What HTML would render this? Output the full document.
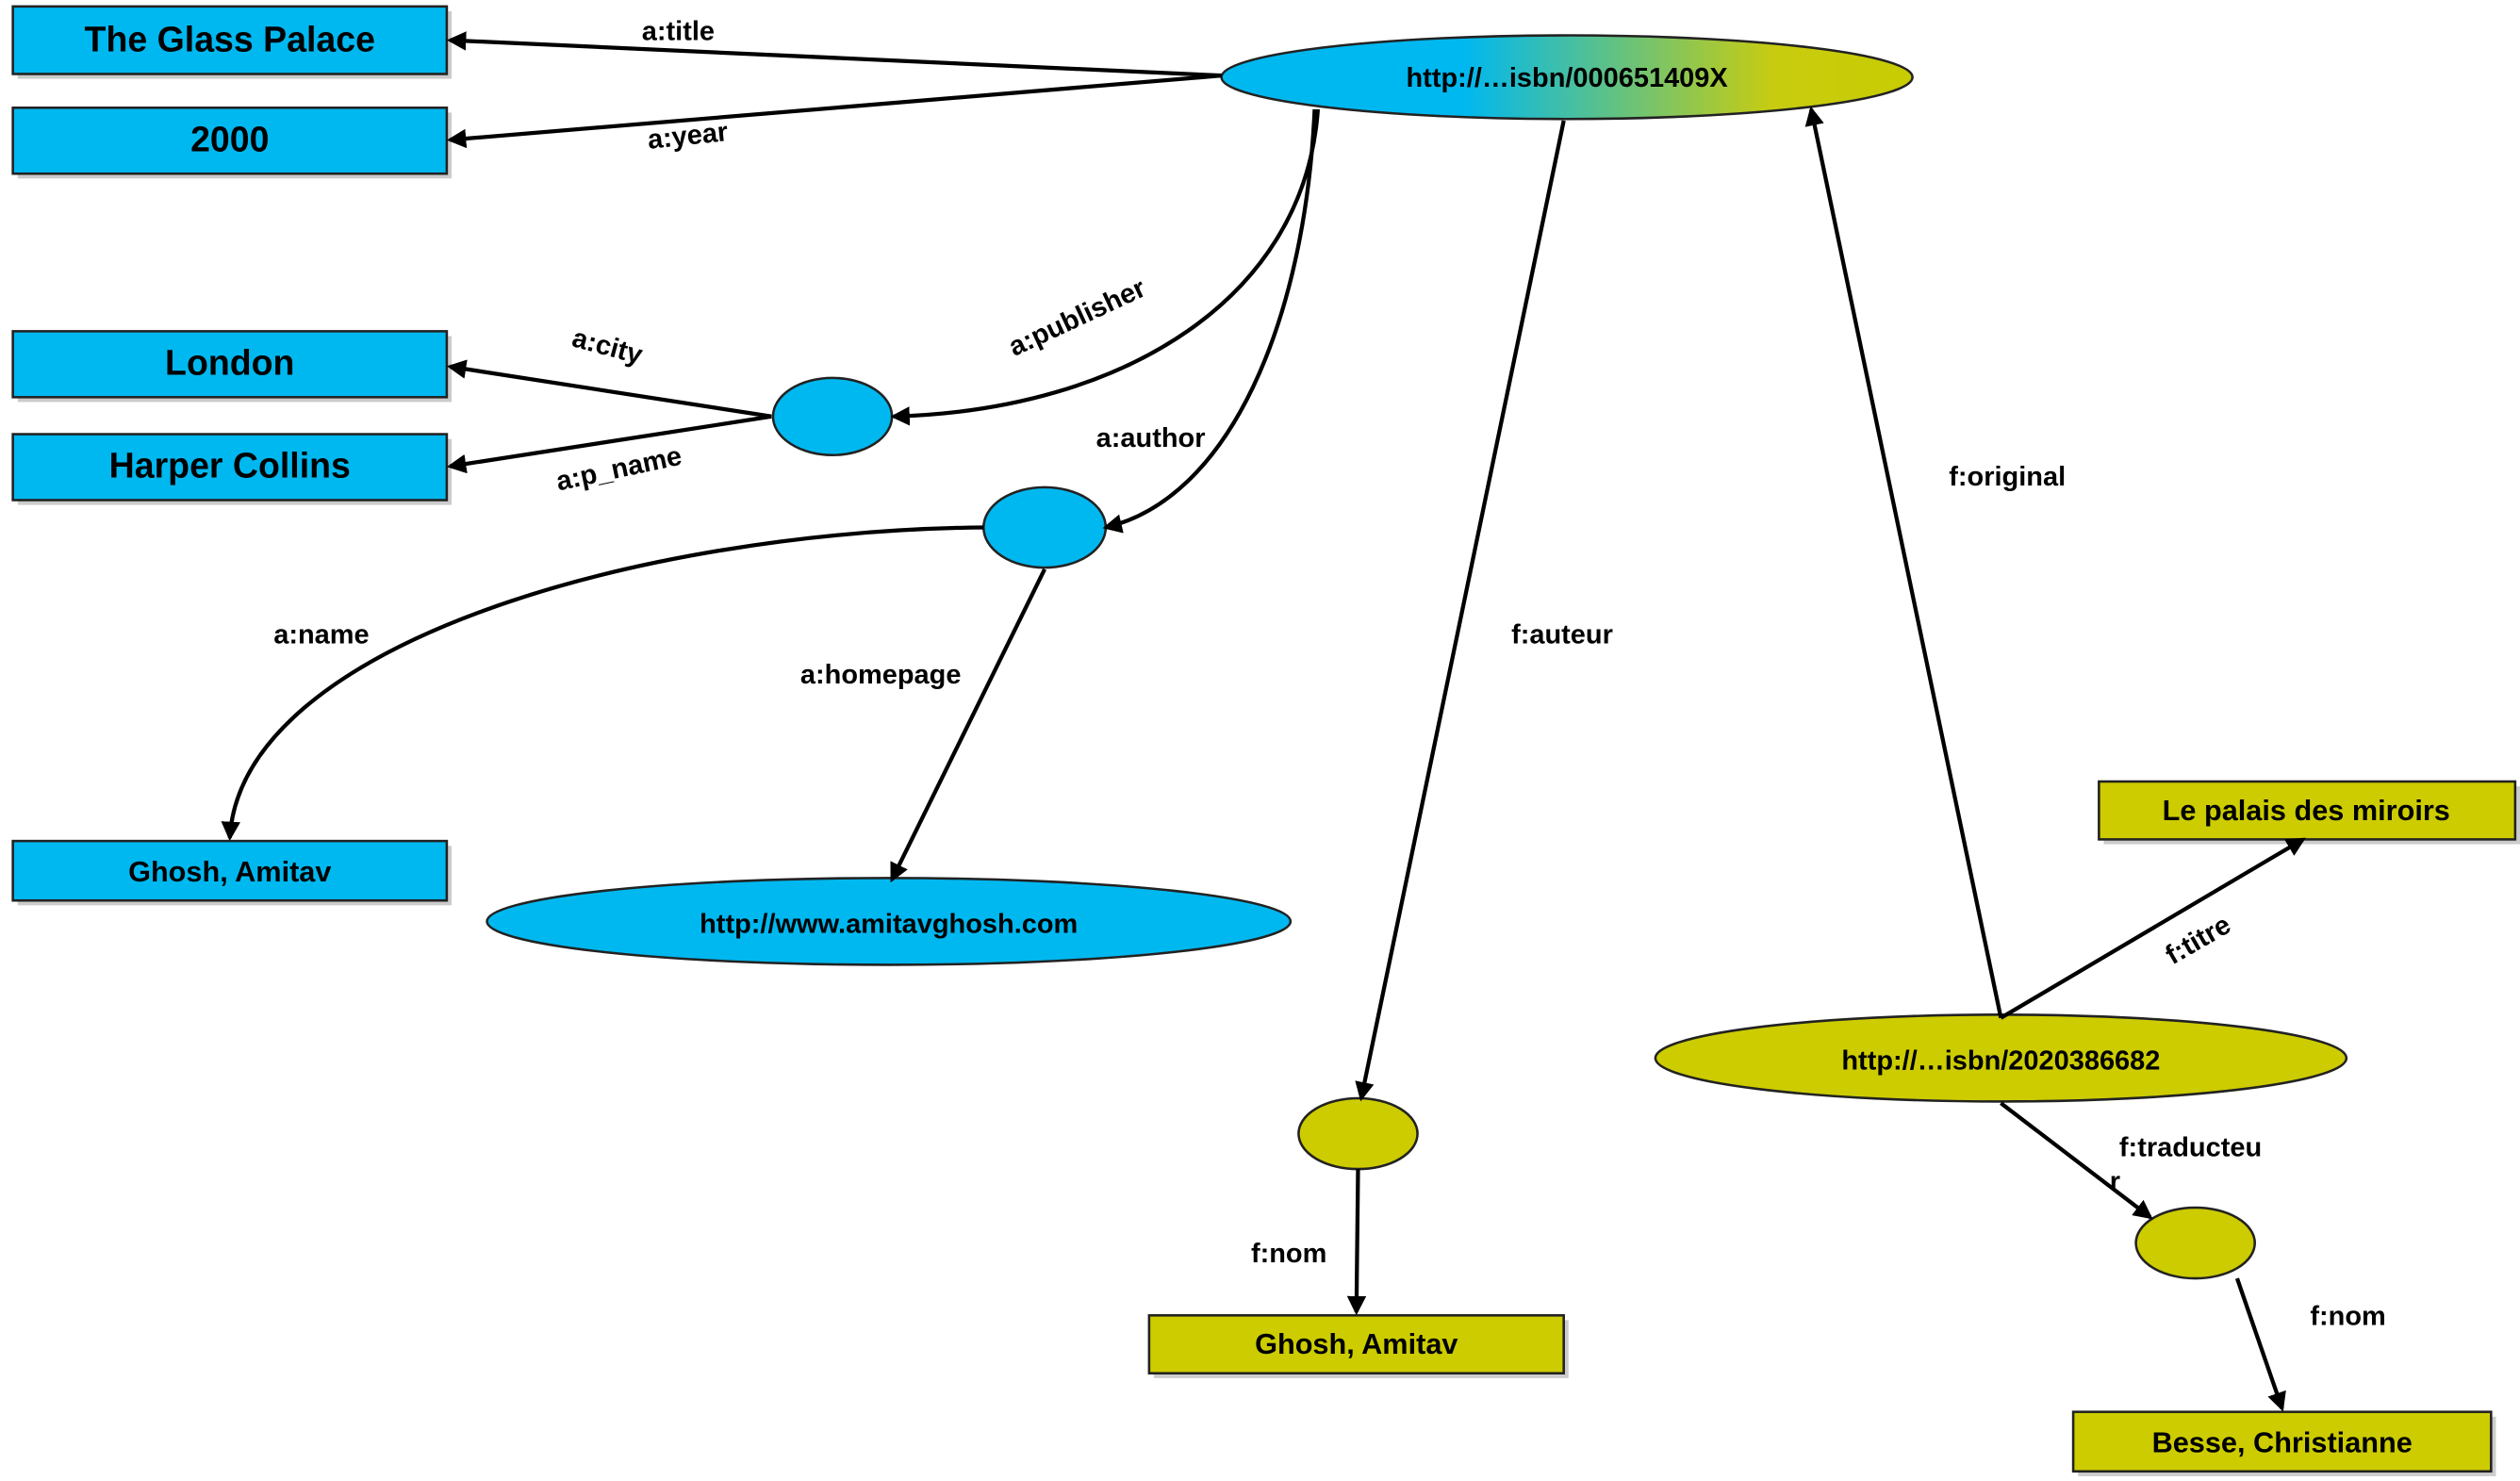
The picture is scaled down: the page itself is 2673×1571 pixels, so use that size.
<!DOCTYPE html>
<html><head><meta charset="utf-8"><style>html,body{margin:0;padding:0;background:#fff}svg{display:block}</style></head>
<body>
<svg width="2673" height="1571" viewBox="0 0 1568 921" preserveAspectRatio="none" xmlns="http://www.w3.org/2000/svg" font-family="Liberation Sans, Arial, sans-serif" font-weight="bold">
<defs>
<linearGradient id="g" x1="0" x2="1" y1="0" y2="0">
<stop offset="0" stop-color="#00b8f0"/><stop offset="0.35" stop-color="#00b8f0"/><stop offset="0.8" stop-color="#c8cc10"/><stop offset="1" stop-color="#c8cc00"/>
</linearGradient>
<marker id="a" markerWidth="12" markerHeight="12" refX="10" refY="6" orient="auto" markerUnits="userSpaceOnUse"><path d="M0,0 L12,6 L0,12 z" fill="#000"/></marker>
</defs>
<g fill="#aaa" opacity="0.6">
<rect x="11" y="7" width="270" height="42"/><rect x="11" y="70" width="270" height="41"/>
<rect x="11" y="209" width="270" height="41"/><rect x="11" y="273" width="270" height="41"/>
<rect x="11" y="526" width="270" height="37"/><rect x="718" y="821" width="258" height="36"/>
<rect x="1309" y="489" width="259" height="36"/><rect x="1293" y="881" width="260" height="37"/>
</g>
<g stroke="#222" stroke-width="1.5">
<rect x="8" y="4" width="270" height="42" fill="#00b8f0"/>
<rect x="8" y="67" width="270" height="41" fill="#00b8f0"/>
<rect x="8" y="206" width="270" height="41" fill="#00b8f0"/>
<rect x="8" y="270" width="270" height="41" fill="#00b8f0"/>
<rect x="8" y="523" width="270" height="37" fill="#00b8f0"/>
<rect x="715" y="818" width="258" height="36" fill="#cccc00"/>
<rect x="1306" y="486" width="259" height="36" fill="#cccc00"/>
<rect x="1290" y="878" width="260" height="37" fill="#cccc00"/>
<ellipse cx="975" cy="48" rx="215" ry="26" fill="url(#g)"/>
<ellipse cx="518" cy="259" rx="37" ry="24" fill="#00b8f0"/>
<ellipse cx="650" cy="328" rx="38" ry="25" fill="#00b8f0"/>
<ellipse cx="553" cy="573" rx="250" ry="27" fill="#00b8f0"/>
<ellipse cx="845" cy="705" rx="37" ry="22" fill="#cccc00"/>
<ellipse cx="1245" cy="658" rx="215" ry="27" fill="#cccc00"/>
<ellipse cx="1366" cy="773" rx="37" ry="22" fill="#cccc00"/>
</g>
<g stroke="#000" stroke-width="2.5" fill="none" marker-end="url(#a)">
<path d="M760,47 L280,25"/>
<path d="M760,47 L280,87"/>
<path d="M820,68 C812,185 700,255 556,259"/>
<path d="M818,68 C812,200 765,310 688,328"/>
<path d="M480,259 L280,228"/>
<path d="M480,259 L280,290"/>
<path d="M612,328 C400,330 150,400 143,521"/>
<path d="M650,354 L555,547"/>
<path d="M973,75 L847,683"/>
<path d="M1245,633 L1127,68"/>
<path d="M1245,633 L1433,522"/>
<path d="M1245,686 L1338,757"/>
<path d="M845,727 L844,816"/>
<path d="M1392,795 L1420,876"/>
</g>
<g text-anchor="middle" fill="#000">
<text x="143" y="32" font-size="22">The Glass Palace</text>
<text x="143" y="94" font-size="22">2000</text>
<text x="143" y="233" font-size="22">London</text>
<text x="143" y="297" font-size="22">Harper Collins</text>
<text x="143" y="548" font-size="18">Ghosh, Amitav</text>
<text x="844" y="842" font-size="18">Ghosh, Amitav</text>
<text x="1435" y="510" font-size="18">Le palais des miroirs</text>
<text x="1420" y="903" font-size="18">Besse, Christianne</text>
<text x="975" y="54" font-size="17">http://…isbn/000651409X</text>
<text x="553" y="580" font-size="17">http://www.amitavghosh.com</text>
<text x="1245" y="665" font-size="17">http://…isbn/2020386682</text>
<g font-size="17">
<text x="422" y="25">a:title</text>
<text x="428" y="90" transform="rotate(-6 428 85)">a:year</text>
<text x="670" y="203" transform="rotate(-25 670 197)">a:publisher</text>
<text x="716" y="278">a:author</text>
<text x="378" y="221" transform="rotate(15 378 215)">a:city</text>
<text x="385" y="297" transform="rotate(-12 385 291)">a:p_name</text>
<text x="200" y="400">a:name</text>
<text x="548" y="425">a:homepage</text>
<text x="972" y="400">f:auteur</text>
<text x="1249" y="302">f:original</text>
<text x="1368" y="590" transform="rotate(-30 1368 585)">f:titre</text>
<text x="1363" y="719">f:traducteu</text>
<text x="1316" y="740">r</text>
<text x="802" y="785">f:nom</text>
<text x="1461" y="824">f:nom</text>
</g>
</g>
</svg>
</body></html>
